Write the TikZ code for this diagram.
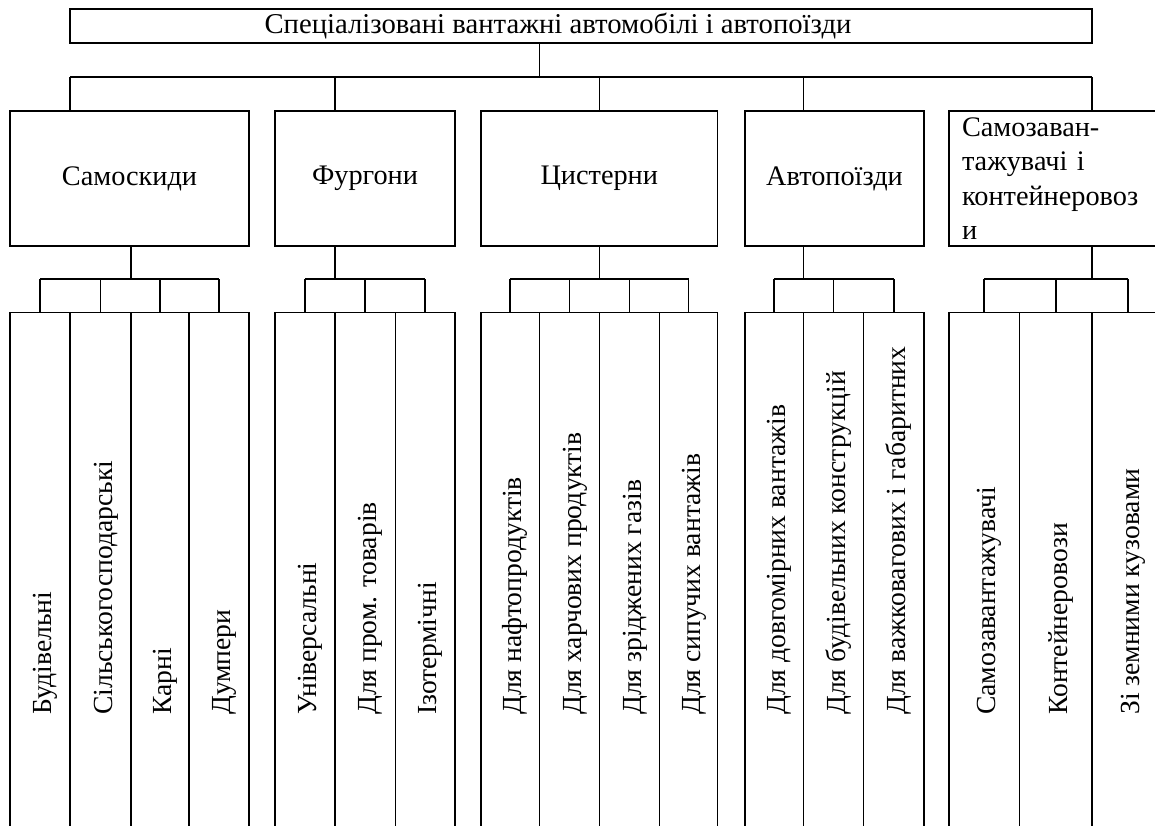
\documentclass[tikz,border=0pt]{standalone}
\usepackage{fontspec}
\setmainfont{Liberation Serif}
\newfontfamily\tnr{Liberation Serif}
\begin{document}
\begin{tikzpicture}[x=1pt,y=-1pt,
  lw/.style={line width=1.8pt},
  box/.style={draw, lw, inner sep=0pt, minimum height=135pt, font=\tnr\fontsize{28.3}{34.5}\selectfont},
  col/.style={draw, lw, inner sep=0pt, minimum height=532.5pt},
  coltext/.style={rotate=90, anchor=base west, inner sep=0pt, font=\tnr\fontsize{27.6}{34.5}\selectfont},
  conn/.style={lw}]
\useasboundingbox (0,0) rectangle (1155,825);
\clip (0,0) rectangle (1155,825);
\fill[white] (0,0) rectangle (1155,825);
% title
\node[draw, lw, inner sep=0pt, minimum width=1022pt, minimum height=34pt,
      font=\tnr\fontsize{28.7}{34.5}\selectfont] (T) at (581,26)
      {Спеціалізовані вантажні автомобілі і автопоїзди\kern46pt};
% level 1
\node[box, minimum width=239pt] (A) at (129.5,178.5) {Самоскиди};
\node[box, minimum width=180pt] (B) at (365,178.5) {Фургони};
\node[box, minimum width=236.5pt] (C) at (599.25,178.5) {Цистерни};
\node[box, minimum width=179pt] (D) at (834.5,178.5) {Автопоїзди};
\node[box, minimum width=215pt, text width=189pt, inner xsep=13pt, align=left] (E) at (1056.5,178.5)
      {Самозаван-\\тажувачі і\\контейнеровоз\\и};
% bus
\coordinate (j0) at (539.5,77);
\coordinate (jA) at (70,77);
\coordinate (jB) at (335,77);
\coordinate (jC) at (599.5,77);
\coordinate (jD) at (803.5,77);
\coordinate (jE) at (1092,77);
\draw[conn] (j0 |- T.south) -- (j0);
\draw[conn] (jA) -- (jE);
\foreach \j/\n in {jA/A,jB/B,jC/C,jD/D,jE/E} \draw[conn] (\j) -- (\j |- \n.north);
% columns
\foreach \n/\c/\w in {a1/40/60, a2/100.5/61, a3/160/58, a4/219/60,
                      b1/305/60, b2/365.25/60.5, b3/425.25/59.5,
                      c1/510.25/58.5, c2/569.5/60, c3/629.5/60, c4/688.5/58,
                      d1/774.25/58.5, d2/833.5/60, d3/893.75/60.5,
                      e1/984.25/70.5, e2/1055.75/72.5, e3/1128/72}
  \node[col, minimum width=\w pt] (\n) at (\c,578.75) {};
% sub buses
\coordinate (sA) at (131,279);
\coordinate (sB) at (335,279);
\coordinate (sC) at (599.5,279);
\coordinate (sD) at (803.5,279);
\coordinate (sE) at (1092,279);
\foreach \s/\n/\f/\l in {sA/A/a1/a4, sB/B/b1/b3, sC/C/c1/c4, sD/D/d1/d3, sE/E/e1/e3} {
  \draw[conn] (\n.south -| \s) -- (\s);
  \draw[conn] (\f.north |- \s) -- (\l.north |- \s);
}
\foreach \n in {a1,a2,a3,a4,b1,b2,b3,c1,c2,c3,c4,d1,d2,d3,e1,e2,e3}
  \draw[conn] (\n.north |- sA) -- (\n.north);
% column labels
\foreach \n/\t in {a1/Будівельні, a2/Сільськогосподарські, a3/Карні, a4/Думпери,
                   b1/Універсальні, b2/Для пром. товарів, b3/Ізотермічні,
                   c1/Для нафтопродуктів, c2/Для харчових продуктів, c3/Для зріджених газів, c4/Для сипучих вантажів,
                   d1/Для довгомірних вантажів, d2/Для будівельних конструкцій, d3/Для важковагових і габаритних,
                   e1/Самозавантажувачі, e2/Контейнеровози, e3/Зі земними кузовами}
  \node[coltext] (\n t) at ([xshift=11.5pt]\n.center |- 0,715) {\t};
\end{tikzpicture}
\end{document}
